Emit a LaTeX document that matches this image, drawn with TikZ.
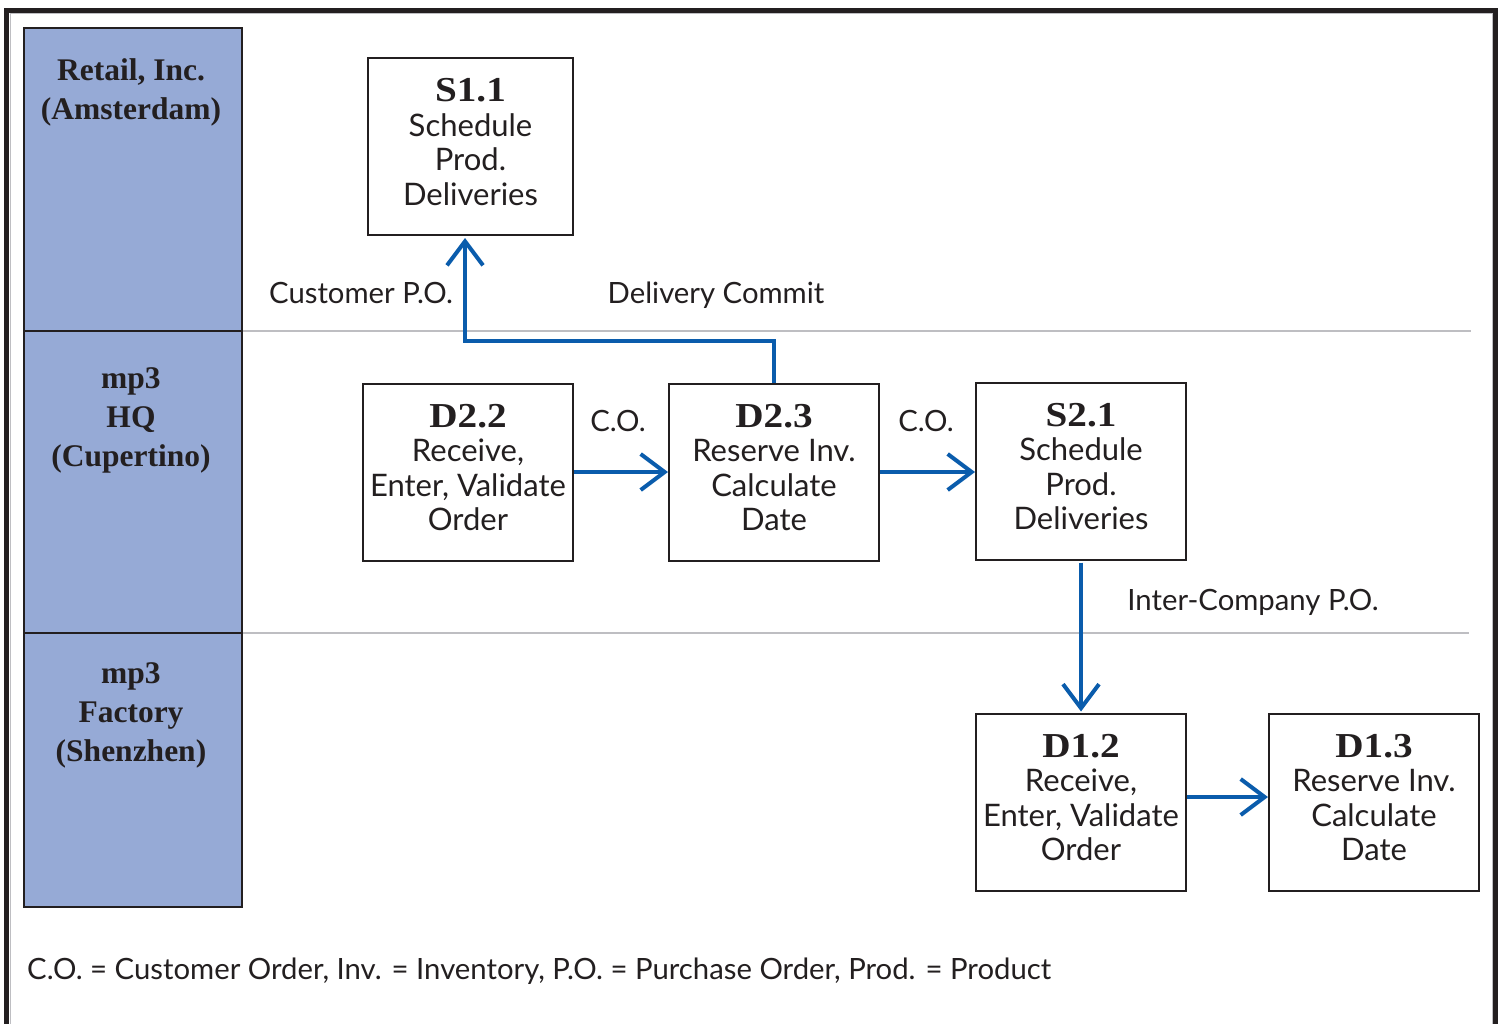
\documentclass[tikz,border=0pt]{standalone}
\usepackage{fontspec}
\setmainfont{Liberation Serif}
\setsansfont{Lato}
\newfontfamily\titlefont{Liberation Serif}[FakeStretch=1.12]
\usetikzlibrary{arrows.meta}
\definecolor{flow}{RGB}{10,92,172}
\definecolor{lanefill}{RGB}{150,170,214}
\definecolor{rulegray}{RGB}{190,190,194}
\definecolor{ink}{RGB}{35,31,32}
% step id in bold serif on top, description below
\newcommand{\steptext}[2]{\raisebox{1.5pt}{\begin{tabular}{@{}c@{}}{\titlefont\bfseries\fontsize{35}{34.5}\selectfont #1}\\#2\end{tabular}}}
\begin{document}
\begin{tikzpicture}[x=1pt,y=-1pt,
  proc/.style={draw=ink, line width=2pt, minimum width=210pt, minimum height=177pt,
    inner sep=0pt, text=ink, font=\sffamily\fontsize{31}{34.5}\selectfont},
  lanelabel/.style={align=center, text=ink, font=\bfseries\fontsize{31.5}{39}\selectfont},
  tag/.style={text=ink, inner sep=0pt, anchor=base, font=\sffamily\fontsize{29.3}{32}\selectfont},
  flowarrow/.style={draw=flow, line width=4pt, -{Straight Barb[length=24pt,width=36pt]}}]
\clip (0,0) rectangle (1502,1023);
\fill[white] (0,0) rectangle (1502,1023);

% outer frame, open at the bottom
\draw[rulegray, line width=1pt] (10,1040) -- (10,13.5) -- (1492.5,13.5) -- (1492.5,1040);
\draw[ink, line width=5pt] (6.7,1040) -- (6.7,10.8) -- (1495.8,10.8) -- (1495.8,1040);

% swimlane header column
\fill[lanefill] (24,28) rectangle (242,907);
\draw[ink, line width=2pt] (24,28) rectangle (242,907);
\draw[ink, line width=2pt] (24,331) -- (242,331);
\draw[ink, line width=2pt] (24,633) -- (242,633);
\draw[rulegray, line width=2.5pt] (243,331) -- (1471,331);
\draw[rulegray, line width=2.5pt] (243,633) -- (1469,633);

\node[lanelabel] (lretail) at (131,92) {Retail, Inc.\\(Amsterdam)};
\node[lanelabel] (lhq) at (131,420) {mp3\\HQ\\(Cupertino)};
\node[lanelabel] (lfactory) at (131,715) {mp3\\Factory\\(Shenzhen)};

% process steps
\node[proc, minimum width=205pt] (s11) at (470.5,146.5) {\steptext{S1.1}{Schedule\\Prod.\\Deliveries}};
\node[proc] (d22) at (468,472) {\steptext{D2.2}{Receive,\\Enter, Validate\\Order}};
\node[proc] (d23) at (774,472) {\steptext{D2.3}{Reserve Inv.\\Calculate\\Date}};
\node[proc] (s21) at (1081,471) {\steptext{S2.1}{Schedule\\Prod.\\Deliveries}};
\node[proc] (d12) at (1081,802) {\steptext{D1.2}{Receive,\\Enter, Validate\\Order}};
\node[proc] (d13) at (1374,802) {\steptext{D1.3}{Reserve Inv.\\Calculate\\Date}};

% flows
\draw[flowarrow] (d23.north) -- ++(0,-42) -| ([xshift=-5.5pt,yshift=-2pt]s11.south);
\draw[flowarrow] (d22.east) -- (d23.west);
\draw[flowarrow] (d23.east) -- (d23.east -| s21.west);
\draw[flowarrow] ([yshift=-2pt]s21.south) -- ([yshift=1pt]d12.north);
\draw[flowarrow] ([yshift=5pt]d12.east) -- ([yshift=5pt]d13.west);

% flow labels
\node[tag] (tcpo) at (361,303) {Customer P.O.};
\node[tag] (tcommit) at (716,303) {Delivery Commit};
\node[tag] (tco1) at (618,431) {C.O.};
\node[tag] (tco2) at (926,431) {C.O.};
\node[tag] (tico) at (1253,610) {Inter-Company P.O.};

% legend
\node[tag, anchor=base west] (legend) at (27,979) {C.O. = Customer Order, Inv. = Inventory, P.O. = Purchase Order, Prod. = Product};
\end{tikzpicture}
\end{document}
